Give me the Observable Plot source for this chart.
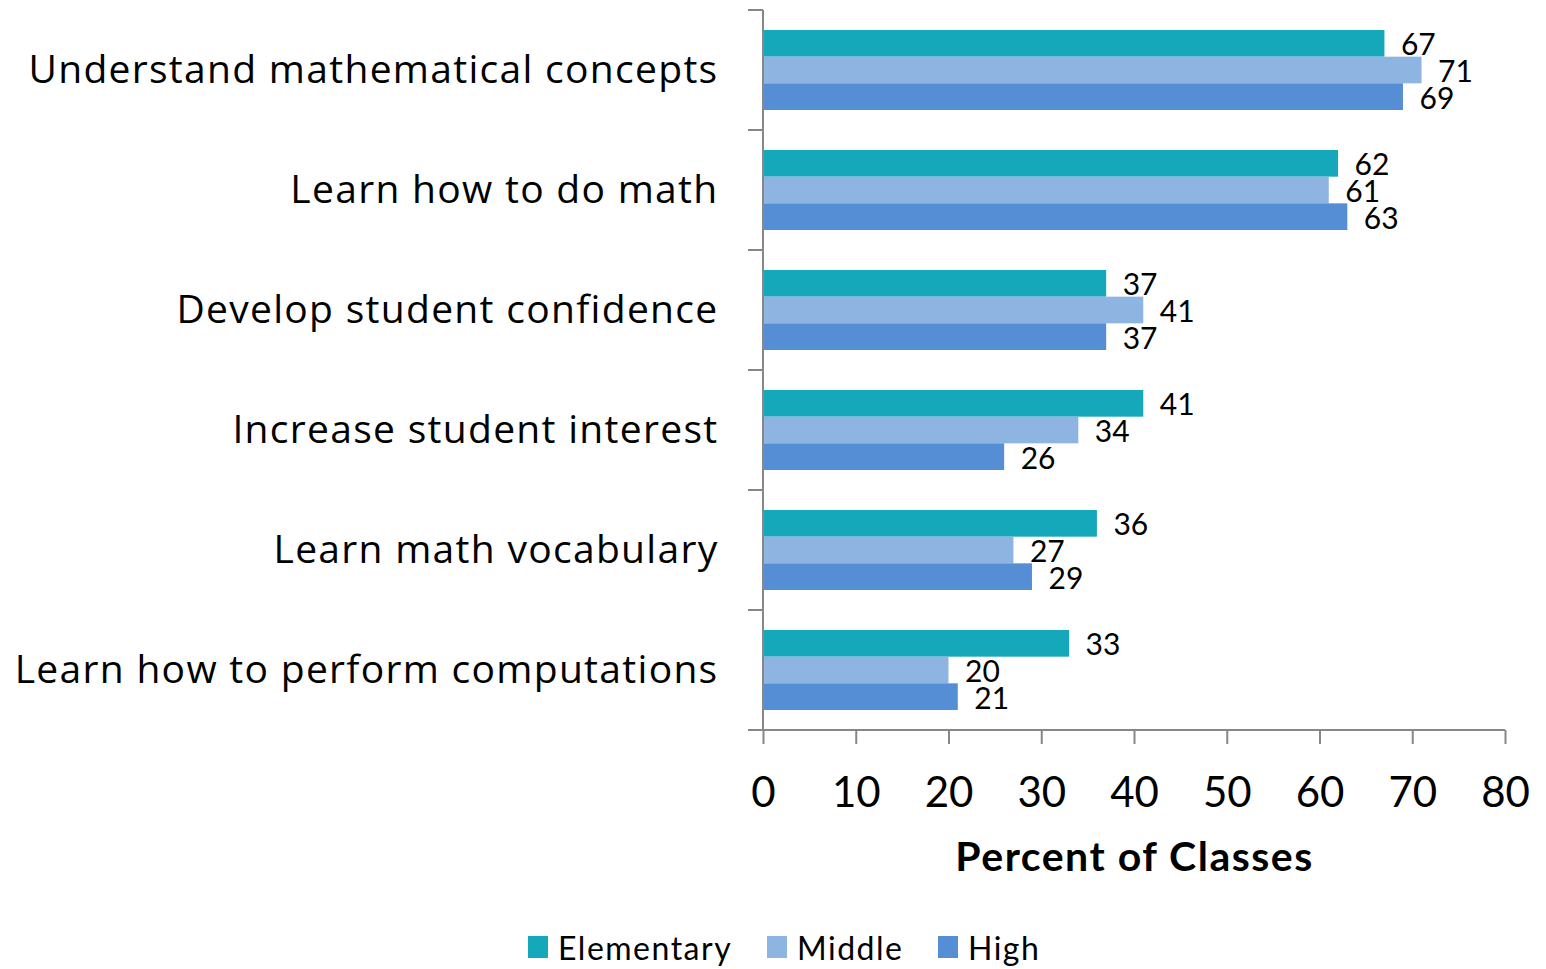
<!DOCTYPE html>
<html>
<head>
<meta charset="utf-8">
<script src="https://cdn.jsdelivr.net/npm/d3@7"></script>
<script src="https://cdn.jsdelivr.net/npm/@observablehq/plot@0.6"></script>
<style>
  html, body { margin: 0; padding: 0; background: #fff; }
  body { width: 1546px; height: 969px; overflow: hidden; font-family: Lato, "Open Sans", sans-serif; }
  #legend { position: relative; height: 44px; font-size: 32px; color: #000; letter-spacing: 1.5px; }
  .item { position: absolute; top: 0; display: flex; align-items: center; height: 44px; }
  .sw { width: 20px; height: 22px; margin-right: 10px; }
  g[aria-description="category labels"] text { letter-spacing: 1.3px; }
  g[aria-description="x title"] text { letter-spacing: 1.5px; }
</style>
</head>
<body>
<div id="chart"></div>
<div id="legend"></div>
<script>
const categories = [
  "Understand mathematical concepts",
  "Learn how to do math",
  "Develop student confidence",
  "Increase student interest",
  "Learn math vocabulary",
  "Learn how to perform computations"
];
const seriesNames = ["Elementary", "Middle", "High"];
const elementary = [67, 62, 37, 41, 36, 33];
const middle = [71, 61, 41, 34, 27, 20];
const high = [69, 63, 37, 26, 29, 21];
const xTicks = [0, 10, 20, 30, 40, 50, 60, 70, 80];
const xTitle = "Percent of Classes";
const colors = ["#15A7BA", "#8EB5E2", "#558ED5"];

const seriesValues = [elementary, middle, high];
const table = [];
seriesNames.forEach((s, k) => categories.forEach((c, i) => table.push({category: c, series: s, value: seriesValues[k][i]})));

const W = 1546, H = 925, mt = 10, mb = 195, ml = 763, mr = 41;
const bw = (H - mt - mb) / categories.length;
const outer = bw / 6, barH = bw * 2 / 9;
const axisColor = "#878787";

const marks = [];
seriesNames.forEach((s, k) => {
  const rows = table.filter(d => d.series === s);
  marks.push(Plot.barX(rows, {
    x: "value", y: "category", fill: "series",
    insetTop: outer + k * barH,
    insetBottom: bw - outer - (k + 1) * barH
  }));
  marks.push(Plot.text(rows, {
    x: "value", y: "category", text: d => String(d.value),
    textAnchor: "start", dx: 16, dy: (k - 1) * barH + 2,
    fontSize: 30, fill: "#000"
  }));
});

marks.push((index, scales, values, dims) => {
  const {x, y} = scales;
  const x0 = x(0);
  const top = dims.marginTop, bottom = dims.height - dims.marginBottom;
  const g = d3.create("svg:g").attr("stroke", axisColor).attr("stroke-width", 2).attr("fill", "none");
  g.append("line").attr("x1", x0).attr("x2", x0).attr("y1", top).attr("y2", bottom);
  categories.forEach(c => {
    g.append("line").attr("x1", x0 - 15).attr("x2", x0).attr("y1", y(c)).attr("y2", y(c));
  });
  g.append("line").attr("x1", x0 - 15).attr("x2", x(xTicks[xTicks.length - 1])).attr("y1", bottom).attr("y2", bottom);
  return g.node();
});

marks.push(Plot.axisX({ticks: xTicks, tickSize: 14, tickPadding: 33, stroke: axisColor, fill: "#000", fontSize: 42, label: null, strokeWidth: 2}));
marks.push(Plot.text(categories, {y: d => d, text: d => d, frameAnchor: "left", textAnchor: "end", dx: -45, fontSize: 39, fontFamily: "'Open Sans', Lato, sans-serif", fill: "#000", ariaDescription: "category labels"}));
marks.push(Plot.text([xTitle], {frameAnchor: "bottom", dy: 140, text: d => d, fontSize: 41, fontWeight: "bold", fill: "#000", ariaDescription: "x title"}));

const chart = Plot.plot({
  width: W, height: H,
  marginTop: mt, marginBottom: mb, marginLeft: ml, marginRight: mr,
  style: {fontFamily: "Lato, 'Open Sans', sans-serif", background: "#fff", color: "#000"},
  x: {domain: [0, 80], axis: null},
  y: {domain: categories, padding: 0, axis: null},
  color: {domain: seriesNames, range: colors},
  marks
});
document.getElementById("chart").appendChild(chart);

const legend = document.getElementById("legend");
const lefts = [528, 767, 938];
seriesNames.forEach((s, k) => {
  const it = document.createElement("div");
  it.className = "item";
  it.style.left = lefts[k] + "px";
  const sw = document.createElement("div");
  sw.className = "sw";
  sw.style.background = colors[k];
  const t = document.createElement("span");
  t.textContent = s;
  it.appendChild(sw); it.appendChild(t);
  legend.appendChild(it);
});
</script>
</body>
</html>
